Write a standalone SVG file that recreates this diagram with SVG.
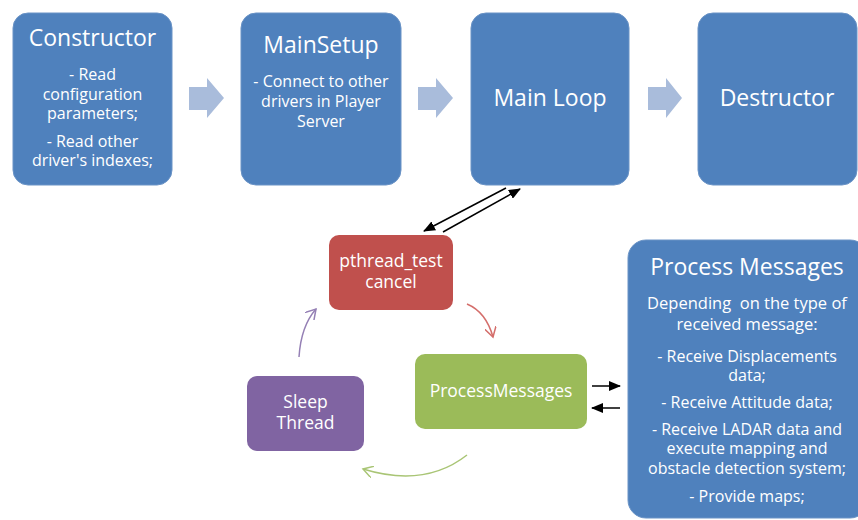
<svg xmlns="http://www.w3.org/2000/svg" width="858" height="520" viewBox="0 0 858 520">
  <style>
    text { font-family: "Open Sans", "Liberation Sans", sans-serif; fill: #ffffff; text-anchor: middle; }
    .title { font-size: 23px; }
    .body { font-size: 16px; }
    .small { font-size: 17.5px; }
    .blue { fill: #4f81bd; stroke: #6a93c6; stroke-width: 1; }
    .chev { fill: #a9bcdb; }
    .link { stroke: #000000; stroke-width: 1.5; fill: none; }
    .curve { fill: none; stroke-width: 1.5; }
  </style>
  <defs>
    <marker id="solid" viewBox="0 0 12 10" refX="11" refY="5" markerWidth="12" markerHeight="10" markerUnits="userSpaceOnUse" orient="auto">
      <path d="M0,0 L12,5 L0,10 Z" fill="#000000"/>
    </marker>
    <marker id="openRed" viewBox="0 0 12 12" refX="10" refY="6" markerWidth="12" markerHeight="12" markerUnits="userSpaceOnUse" orient="auto">
      <path d="M0,0 L10,6 L0,12" fill="none" stroke="#d46e6b" stroke-width="1.5"/>
    </marker>
    <marker id="openGreen" viewBox="0 0 12 12" refX="10" refY="6" markerWidth="12" markerHeight="12" markerUnits="userSpaceOnUse" orient="auto">
      <path d="M0,0 L10,6 L0,12" fill="none" stroke="#a9c575" stroke-width="1.5"/>
    </marker>
    <marker id="openPurple" viewBox="0 0 12 12" refX="10" refY="6" markerWidth="12" markerHeight="12" markerUnits="userSpaceOnUse" orient="auto">
      <path d="M0,0 L10,6 L0,12" fill="none" stroke="#9580b5" stroke-width="1.5"/>
    </marker>
  </defs>

  <!-- stage arrows along the top row -->
  <g id="connectors">
    <path class="chev" d="M189,87 H207 V78 L224,98 L207,118 V110 H189 Z"/>
    <path class="chev" d="M418,87 H436 V78 L453,98 L436,118 V110 H418 Z"/>
    <path class="chev" d="M648,87 H666 V78 L682,98 L666,118 V110 H648 Z"/>

    <!-- main loop <-> cancellation check -->
    <line class="link" x1="506" y1="188" x2="424" y2="231" marker-end="url(#solid)"/>
    <line class="link" x1="443" y1="232" x2="520" y2="189" marker-end="url(#solid)"/>

    <!-- message exchange -->
    <line class="link" x1="592" y1="386" x2="620" y2="386" marker-end="url(#solid)"/>
    <line class="link" x1="620" y1="408" x2="592" y2="408" marker-end="url(#solid)"/>

    <!-- thread cycle -->
    <path class="curve" stroke="#d46e6b" d="M467,304 Q486,312 493,337" marker-end="url(#openRed)"/>
    <path class="curve" stroke="#a9c575" d="M467,455 Q425,488 363,469" marker-end="url(#openGreen)"/>
    <path class="curve" stroke="#9580b5" d="M299,357 Q301,326 316,309" marker-end="url(#openPurple)"/>
  </g>

  <g id="constructor">
    <rect class="blue" x="13" y="13" width="159" height="172" rx="15"/>
    <text class="title" x="92.5" y="46">Constructor</text>
    <text class="body" x="92.5" y="80">- Read</text>
    <text class="body" x="92.5" y="100">configuration</text>
    <text class="body" x="92.5" y="119">parameters;</text>
    <text class="body" x="92.5" y="147">- Read other</text>
    <text class="body" x="92.5" y="166">driver's indexes;</text>
  </g>

  <g id="mainsetup">
    <rect class="blue" x="241" y="13" width="160" height="172" rx="15"/>
    <text class="title" x="321" y="53">MainSetup</text>
    <text class="body" x="321" y="87">- Connect to other</text>
    <text class="body" x="321" y="107">drivers in Player</text>
    <text class="body" x="321" y="127">Server</text>
  </g>

  <g id="mainloop">
    <rect class="blue" x="471" y="13" width="158" height="172" rx="15"/>
    <text class="title" x="550" y="106">Main Loop</text>
  </g>

  <g id="destructor">
    <rect class="blue" x="698" y="13" width="159" height="172" rx="15"/>
    <text class="title" x="777" y="106">Destructor</text>
  </g>

  <g id="pthread-testcancel">
    <rect x="329" y="235" width="124" height="75" rx="10" fill="#c0504d"/>
    <text class="small" x="391" y="267">pthread_test</text>
    <text class="small" x="391" y="288">cancel</text>
  </g>

  <g id="processmessages-step">
    <rect x="415" y="354" width="172" height="75" rx="10" fill="#9bbb59"/>
    <text class="small" x="501" y="397">ProcessMessages</text>
  </g>

  <g id="sleep-thread">
    <rect x="247" y="376" width="117" height="75" rx="10" fill="#8064a2"/>
    <text class="small" x="305.5" y="408">Sleep</text>
    <text class="small" x="305.5" y="429">Thread</text>
  </g>

  <g id="process-messages">
    <rect class="blue" x="628" y="240" width="240" height="278" rx="18"/>
    <text class="title" x="747" y="275">Process Messages</text>
    <text class="body" x="747" y="309" style="font-size:16.5px; white-space:pre">Depending  on the type of</text>
    <text class="body" x="747" y="330" style="font-size:16.5px">received message:</text>
    <text class="body" x="747" y="362">- Receive Displacements</text>
    <text class="body" x="747" y="381">data;</text>
    <text class="body" x="747" y="408">- Receive Attitude data;</text>
    <text class="body" x="747" y="435">- Receive LADAR data and</text>
    <text class="body" x="747" y="454">execute mapping and</text>
    <text class="body" x="747" y="474">obstacle detection system;</text>
    <text class="body" x="747" y="502">- Provide maps;</text>
  </g>
</svg>
